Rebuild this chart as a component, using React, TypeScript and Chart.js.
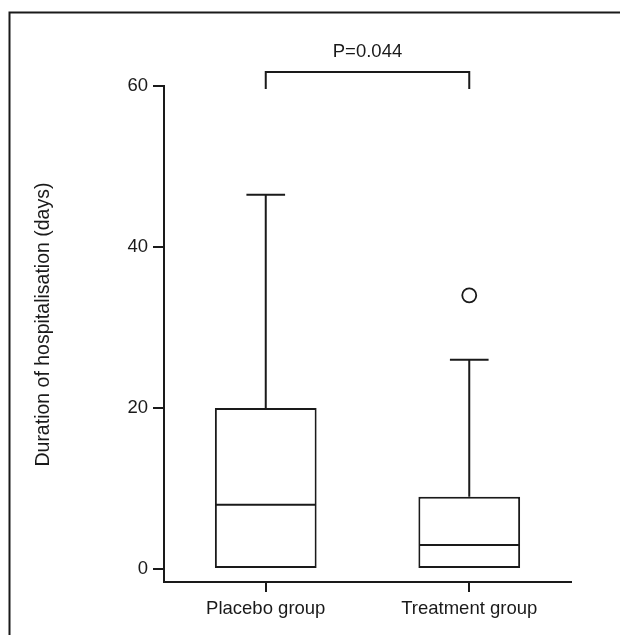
import React, { useEffect, useRef } from "react";
import { Chart, registerables } from "chart.js";

Chart.register(...registerables);

const categories = ["Placebo group", "Treatment group"];
const q1 = [0, 0];
const median = [8, 3];
const q3 = [20, 9];
const whiskerLow = [0, 0];
const whiskerHigh = [46.5, 26];
const outliers: (number | null)[] = [null, 34];
const yTicks = [0, 20, 40, 60];
const yTitle = "Duration of hospitalisation (days)";
const pLabel = "P=0.044";

const INK = "#1a1a1a";
const FONT = "'Liberation Sans', Arial, Helvetica, sans-serif";

const extrasPlugin = {
  id: "boxExtras",
  beforeDraw(chart: any) {
    const ctx = chart.ctx;
    ctx.save();
    ctx.strokeStyle = INK;
    ctx.lineWidth = 2;
    ctx.beginPath();
    ctx.moveTo(9.5, chart.height);
    ctx.lineTo(9.5, 12.5);
    ctx.lineTo(chart.width, 12.5);
    ctx.stroke();
    ctx.restore();
  },
  afterDatasetsDraw(chart: any) {
    const ctx = chart.ctx;
    const x = chart.scales.x;
    const y = chart.scales.y;
    const meta = chart.getDatasetMeta(0);
    ctx.save();
    ctx.strokeStyle = INK;
    ctx.lineWidth = 2;
    categories.forEach((_, i) => {
      const bar = meta.data[i];
      const cx = bar.x;
      const w = bar.width;
      const ym = y.getPixelForValue(median[i]);
      ctx.beginPath();
      ctx.moveTo(cx - w / 2 + 1, ym);
      ctx.lineTo(cx + w / 2 - 1, ym);
      ctx.stroke();
      const yq3 = y.getPixelForValue(q3[i]);
      const yhi = y.getPixelForValue(whiskerHigh[i]);
      ctx.beginPath();
      ctx.moveTo(cx, yq3);
      ctx.lineTo(cx, yhi);
      ctx.moveTo(cx - w * 0.19, yhi);
      ctx.lineTo(cx + w * 0.19, yhi);
      ctx.stroke();
      if (whiskerLow[i] < q1[i]) {
        const yq1 = y.getPixelForValue(q1[i]);
        const ylo = y.getPixelForValue(whiskerLow[i]);
        ctx.beginPath();
        ctx.moveTo(cx, yq1);
        ctx.lineTo(cx, ylo);
        ctx.moveTo(cx - w * 0.19, ylo);
        ctx.lineTo(cx + w * 0.19, ylo);
        ctx.stroke();
      }
    });
    // significance bracket
    const x0 = x.getPixelForValue(0);
    const x1 = x.getPixelForValue(1);
    const top = chart.chartArea.top;
    const by = top - 14;
    ctx.beginPath();
    ctx.moveTo(x0, top + 3);
    ctx.lineTo(x0, by);
    ctx.lineTo(x1, by);
    ctx.lineTo(x1, top + 3);
    ctx.stroke();
    ctx.fillStyle = INK;
    ctx.font = `18.5px ${FONT}`;
    ctx.textAlign = "center";
    ctx.textBaseline = "middle";
    ctx.fillText(pLabel, (x0 + x1) / 2, top - 34);
    // y-axis title
    const cy = (y.getPixelForValue(0) + y.getPixelForValue(60)) / 2 - 3;
    ctx.font = `19.5px ${FONT}`;
    ctx.translate(44, cy);
    ctx.rotate(-Math.PI / 2);
    ctx.fillText(yTitle, 0, 0);
    ctx.restore();
  },
};

export default function App() {
  const ref = useRef<HTMLCanvasElement>(null);
  useEffect(() => {
    document.body.style.margin = "0";
    const canvas = ref.current!;
    const chart = new Chart(canvas, {
      type: "bar",
      data: {
        labels: categories,
        datasets: [
          {
            type: "bar",
            data: categories.map((_, i) => [q1[i], q3[i]]) as any,
            backgroundColor: "#ffffff",
            borderColor: INK,
            borderWidth: 2,
            borderSkipped: false,
            barPercentage: 0.5,
            categoryPercentage: 1,
          } as any,
          {
            type: "line",
            data: outliers as any,
            showLine: false,
            pointRadius: 7,
            pointHoverRadius: 7,
            pointBackgroundColor: "#ffffff",
            pointBorderColor: INK,
            pointBorderWidth: 1.8,
          } as any,
        ],
      },
      options: {
        animation: false,
        responsive: false,
        events: [],
        layout: { padding: { left: 0, top: 86, right: 49, bottom: 0 } },
        plugins: { legend: { display: false }, tooltip: { enabled: false }, title: { display: false } },
        scales: {
          x: {
            type: "category",
            offset: true,
            grid: {
              offset: false,
              drawOnChartArea: false,
              drawTicks: true,
              tickLength: 10,
              color: INK,
              lineWidth: 2,
            },
            border: { display: true, color: INK, width: 2 },
            ticks: { color: INK, font: { family: FONT, size: 18.5 }, padding: 6, maxRotation: 0 },
            afterFit: (s: any) => {
              s.height = 53;
            },
          },
          y: {
            min: -1.6,
            max: 60,
            afterBuildTicks: (s: any) => {
              s.ticks = yTicks.map((v) => ({ value: v }));
            },
            grid: {
              drawOnChartArea: false,
              drawTicks: true,
              tickLength: 11,
              color: INK,
              lineWidth: 2,
            },
            border: { display: true, color: INK, width: 2 },
            ticks: { color: INK, font: { family: FONT, size: 18.5 }, padding: 5 },
            afterFit: (s: any) => {
              s.width = 164;
            },
          },
        },
      } as any,
      plugins: [extrasPlugin],
    });
    return () => chart.destroy();
  }, []);
  return <canvas ref={ref} width={620} height={635} style={{ display: "block", width: 620, height: 635 }} />;
}
